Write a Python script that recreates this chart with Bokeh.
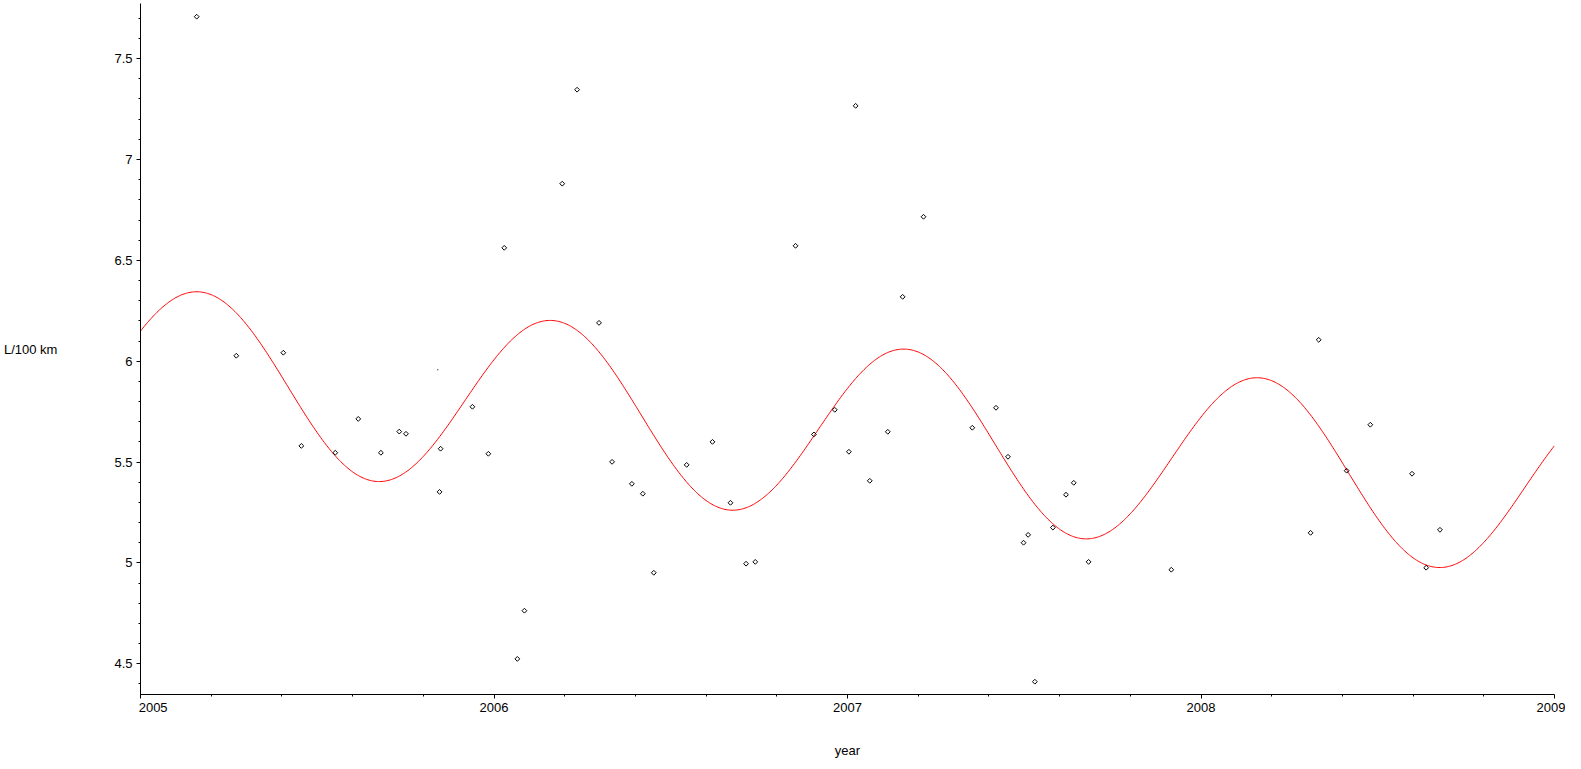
import numpy as np
from bokeh.plotting import figure
from bokeh.models import Range1d, FixedTicker, CustomJSTickFormatter
from bokeh.embed import file_html
from bokeh.resources import INLINE

# ---- data ----
year = [2005.159, 2005.271, 2005.404, 2005.455, 2005.551, 2005.616, 2005.680,
        2005.732, 2005.751, 2005.846, 2005.849, 2005.939, 2005.984, 2006.029,
        2006.066, 2006.086, 2006.193, 2006.235, 2006.297, 2006.334, 2006.390,
        2006.421, 2006.452, 2006.545, 2006.618, 2006.669, 2006.713, 2006.739,
        2006.853, 2006.905, 2006.964, 2007.004, 2007.023, 2007.063, 2007.114,
        2007.156, 2007.215, 2007.353, 2007.420, 2007.454, 2007.498, 2007.511,
        2007.530, 2007.581, 2007.618, 2007.640, 2007.682, 2007.916, 2008.310,
        2008.333, 2008.412, 2008.479, 2008.597, 2008.637, 2008.676]
consumption = [7.708, 6.027, 6.042, 5.580, 5.546, 5.714, 5.546,
               5.651, 5.640, 5.352, 5.566, 5.774, 5.541, 6.562,
               4.524, 4.763, 6.880, 7.346, 6.190, 5.501, 5.392,
               5.343, 4.951, 5.486, 5.600, 5.298, 4.996, 5.005,
               6.572, 5.637, 5.759, 5.551, 7.266, 5.407, 5.650,
               6.319, 6.716, 5.670, 5.769, 5.526, 5.100, 5.139,
               4.411, 5.175, 5.338, 5.397, 5.005, 4.966, 5.149,
               6.106, 5.457, 5.685, 5.442, 4.976, 5.164]
stray_year = [2005.841]
stray_value = [5.957]

x_ticks = [2005, 2006, 2007, 2008, 2009]
y_ticks = [4.5, 5.0, 5.5, 6.0, 6.5, 7.0, 7.5]

# ---- fitted seasonal model (trend + yearly sinusoid), least squares on the data ----
t = np.array(year)
v = np.array(consumption)
A = np.column_stack([np.ones_like(t), t - 2005, np.cos(2 * np.pi * t), np.sin(2 * np.pi * t)])
coef, *_ = np.linalg.lstsq(A, v, rcond=None)
tc = np.linspace(2005, 2009, 1201)
fit = coef[0] + coef[1] * (tc - 2005) + coef[2] * np.cos(2 * np.pi * tc) + coef[3] * np.sin(2 * np.pi * tc)

FONT = "Liberation Sans"

p = figure(width=1565, height=761, output_backend="svg", toolbar_location=None,
           x_range=Range1d(2005, 2009), y_range=Range1d(4.3475, 7.7734),
           min_border_left=134, min_border_right=11, min_border_top=3, min_border_bottom=67,
           background_fill_color="white", border_fill_color="white")
p.outline_line_color = None
p.xgrid.visible = False
p.ygrid.visible = False

p.line(tc, fit, line_color="#ff0000", line_width=1)
p.scatter(year, consumption, marker="square", angle=np.pi / 4, size=3.4,
          fill_color=None, line_color="black", line_width=1)
p.scatter(stray_year, stray_value, marker="square", size=1,
          fill_color="black", line_color=None)

xa = p.xaxis[0]
xa.ticker = FixedTicker(ticks=x_ticks, minor_ticks=list(np.arange(2005, 2009.001, 0.2)))
# the first year label sits to the right of its tick, as in the reference
xa.formatter = CustomJSTickFormatter(
    code="return tick == 2005 ? '\\u00a0'.repeat(7) + '2005' : String(Math.round(tick));")
ya = p.yaxis[0]
ya.ticker = FixedTicker(ticks=y_ticks, minor_ticks=list(np.round(np.arange(4.4, 7.75, 0.1), 1)))
ya.formatter = CustomJSTickFormatter(code="return String(Math.round(tick * 10) / 10);")

for ax in (xa, ya):
    ax.axis_line_color = "black"
    ax.axis_line_width = 1
    ax.major_tick_line_color = "black"
    ax.minor_tick_line_color = "black"
    ax.major_tick_in = 0
    ax.minor_tick_in = 0
    ax.major_tick_out = 4
    ax.minor_tick_out = 2
    ax.major_label_text_font = FONT
    ax.major_label_text_font_size = "13px"
    ax.major_label_text_color = "black"
    ax.axis_label_text_font = FONT
    ax.axis_label_text_font_size = "13px"
    ax.axis_label_text_font_style = "normal"
    ax.axis_label_text_color = "black"

xa.major_label_standoff = 1
xa.axis_label = "year"
xa.axis_label_standoff = 25

ya.major_label_standoff = 4
ya.axis_label = "L/100 km"
ya.axis_label_orientation = "horizontal"
ya.axis_label_standoff = 54

open("out.html", "w").write(file_html(p, INLINE))
